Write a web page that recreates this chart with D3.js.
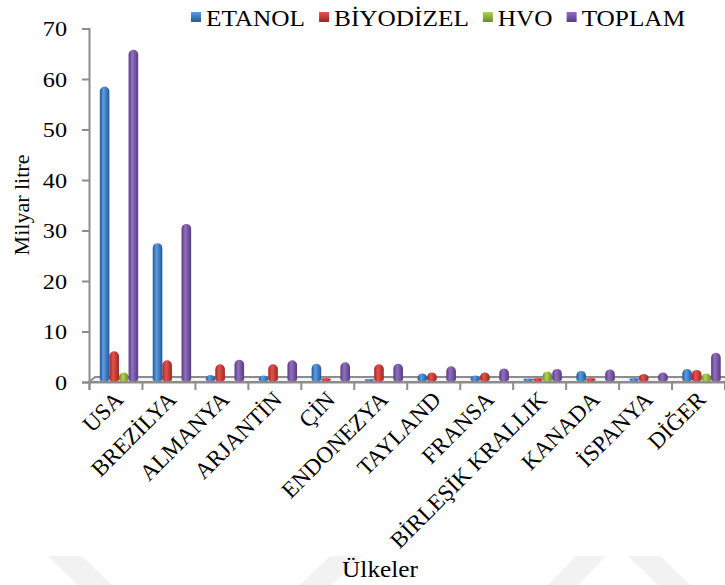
<!DOCTYPE html>
<html>
<head>
<meta charset="utf-8">
<script src="https://cdn.jsdelivr.net/npm/d3@7"></script>
<style>
  html, body { margin: 0; padding: 0; background: #fff; }
  svg { display: block; }
  text { font-family: "Liberation Serif", "Times New Roman", serif; fill: #000; }
</style>
</head>
<body>
<svg id="chart" width="725" height="585"></svg>
<script>
// Biyoyakıt üretimi (milyar litre), ülkelere göre
const categories = ["USA", "BREZİLYA", "ALMANYA", "ARJANTİN", "ÇİN", "ENDONEZYA",
  "TAYLAND", "FRANSA", "BİRLEŞİK KRALLIK", "KANADA", "İSPANYA", "DİĞER"];
const seriesNames = ["ETANOL", "BİYODİZEL", "HVO", "TOPLAM"];
const etanol    = [58.0, 27.0, 0.9, 0.8, 3.1, 0.1, 1.2, 0.8, 0.2, 1.7, 0.3, 2.1];
const biyodizel = [5.6, 3.8, 3.0, 3.0, 0.3, 3.0, 1.4, 1.4, 0.3, 0.3, 1.1, 1.9];
const hvo       = [1.4, 0, 0, 0, 0, 0, 0, 0, 1.6, 0, 0, 1.2];
const toplam    = [65.3, 30.8, 3.9, 3.8, 3.4, 3.1, 2.6, 2.2, 2.1, 2.0, 1.4, 5.3];
const yTicks    = [0, 10, 20, 30, 40, 50, 60, 70];

const seriesValues = [etanol, biyodizel, hvo, toplam];
const palette = [
  { dark: "#24569a", light: "#5a9de0" },
  { dark: "#9e2522", light: "#e5534d" },
  { dark: "#6a8a25", light: "#aed35a" },
  { dark: "#573a80", light: "#9270bf" }
];

const svg = d3.select("#chart");
const defs = svg.append("defs");
const SX = 1.1;              // horizontal stretch applied to horizontal text
const FONT = 22;

// faint background marks
const wm = svg.append("g").attr("fill", "#f2f2f2");
[
  [[48, 556], [82, 556], [112, 585], [78, 585]],
  [[300, 585], [330, 556], [362, 556], [332, 585]],
  [[548, 585], [576, 556], [606, 556], [578, 585]],
  [[628, 556], [660, 556], [690, 585], [658, 585]]
].forEach(p => wm.append("polygon").attr("points", p.map(q => q.join(",")).join(" ")));

// gradients for bars and legend keys
palette.forEach((c, i) => {
  const g = defs.append("linearGradient").attr("id", "bar" + i)
    .attr("x1", 0).attr("x2", 1).attr("y1", 0).attr("y2", 0);
  g.append("stop").attr("offset", "0%").attr("stop-color", c.dark);
  g.append("stop").attr("offset", "38%").attr("stop-color", c.light);
  g.append("stop").attr("offset", "100%").attr("stop-color", c.dark);
  const k = defs.append("linearGradient").attr("id", "key" + i)
    .attr("x1", 0).attr("x2", 0).attr("y1", 0).attr("y2", 1);
  k.append("stop").attr("offset", "0%").attr("stop-color", c.light);
  k.append("stop").attr("offset", "100%").attr("stop-color", c.dark);
});

const plotLeft = 89, plotRight = 724.5, plotTop = 28.5, plotBottom = 382;
const depthX = 6, depthY = -5;

const x = d3.scaleBand().domain(categories).range([plotLeft, plotRight]).padding(0);
const y = d3.scaleLinear().domain([0, 70]).range([plotBottom, plotTop]);
const groupW = 38.4;
const xs = d3.scaleBand().domain(seriesNames).range([0, groupW]).padding(0);

// floor of the plot
svg.append("polygon")
  .attr("points", [[plotLeft, plotBottom], [plotLeft + depthX, plotBottom + depthY],
    [plotRight + depthX, plotBottom + depthY], [plotRight, plotBottom]].map(p => p.join(",")).join(" "))
  .attr("fill", "#f3f3f3").attr("stroke", "#8c8c8c").attr("stroke-width", 2);

// value axis
const yAxis = svg.append("g").attr("transform", `translate(${plotLeft},0)`)
  .call(d3.axisLeft(y).tickValues(yTicks).tickSize(7).tickPadding(15));
yAxis.select(".domain").attr("stroke", "#8c8c8c").attr("stroke-width", 2);
yAxis.selectAll(".tick line").attr("stroke", "#8c8c8c").attr("stroke-width", 2);
yAxis.selectAll(".tick text")
  .attr("font-family", "Liberation Serif").attr("font-size", FONT)
  .attr("x", -22 / SX).attr("transform", `scale(${SX},1)`);

// category axis ticks on band boundaries
const xEdge = d3.scaleLinear().domain([0, categories.length]).range([plotLeft, plotRight]);
const xAxis = svg.append("g").attr("transform", `translate(0,${plotBottom})`)
  .call(d3.axisBottom(xEdge).tickValues(d3.range(categories.length + 1))
    .tickSize(8).tickFormat(""));
xAxis.select(".domain").attr("stroke", "#8c8c8c").attr("stroke-width", 2);
xAxis.selectAll(".tick line").attr("stroke", "#8c8c8c").attr("stroke-width", 2);

// category labels
const xLabels = svg.append("g").attr("transform", `translate(0,${plotBottom})`)
  .call(d3.axisBottom(x).tickSize(0).tickPadding(0));
xLabels.select(".domain").remove();
xLabels.selectAll(".tick text")
  .attr("font-family", "Liberation Serif").attr("font-size", 23)
  .attr("text-anchor", "end").attr("dy", 0).attr("y", 0)
  .attr("transform", "translate(9,19) rotate(-45)");

// bar shape: cylinder with rounded top and elliptical base
function barPath(x0, w, yBase, yTop) {
  const r = w / 2;
  const h = Math.max(0, yBase - yTop);
  const ry = Math.min(r, h);
  const eb = 1.8;
  return `M${x0},${yBase}` +
    `L${x0},${yBase - h + ry}` +
    `A${r},${ry} 0 0 1 ${x0 + w},${yBase - h + ry}` +
    `L${x0 + w},${yBase}` +
    `A${r},${eb} 0 0 1 ${x0},${yBase}Z`;
}

const bars = svg.append("g");
seriesNames.forEach((name, si) => {
  const vals = seriesValues[si];
  bars.selectAll(null)
    .data(categories.map((c, i) => ({ c, v: vals[i] })).filter(d => d.v > 0))
    .join("path")
    .attr("fill", `url(#bar${si})`)
    .attr("d", d => {
      const x0 = x(d.c) + (x.bandwidth() - groupW) / 2 + depthX / 2 + 0.5 + xs(name);
      const base = plotBottom + depthY / 2;
      return barPath(x0, xs.bandwidth(), base, base - (y(0) - y(d.v)));
    });
});

// axis titles
svg.append("text")
  .attr("transform", "translate(29,205) rotate(-90)")
  .attr("text-anchor", "middle").attr("font-size", FONT)
  .text("Milyar litre");
svg.append("text")
  .attr("transform", `translate(380,577) scale(${SX},1)`)
  .attr("text-anchor", "middle").attr("font-size", 23)
  .text("Ülkeler");

// legend
const legend = svg.append("g");
let lx = 191;
seriesNames.forEach((name, i) => {
  legend.append("rect").attr("x", lx).attr("y", 12).attr("width", 10).attr("height", 10)
    .attr("fill", `url(#key${i})`);
  const t = legend.append("text")
    .attr("transform", `translate(${lx + 15},26) scale(${SX},1)`)
    .attr("font-size", 23).text(name);
  lx += 15 + t.node().getComputedTextLength() * SX + 14;
});
</script>
</body>
</html>
